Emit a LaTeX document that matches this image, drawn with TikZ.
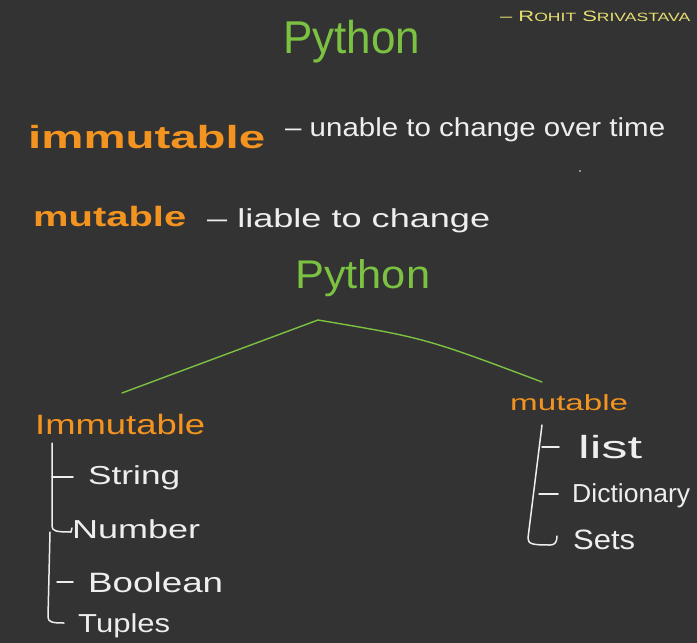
\documentclass[tikz,border=0pt]{standalone}
\usepackage{fontspec}
\setmainfont{Liberation Sans}
\usepackage{graphicx}
\definecolor{bg}{HTML}{333333}
\definecolor{pygreen}{HTML}{7CC242}
\definecolor{orng}{HTML}{F39420}
\definecolor{chalk}{HTML}{EEEEEE}
\definecolor{sig}{HTML}{E8DE72}
\newcommand{\hw}[2]{\resizebox{#1}{\height}{#2}}
\begin{document}
\begin{tikzpicture}[x=1pt,y=-1pt,
  lbl/.style={inner sep=0pt, anchor=west},
  fsz/.style={font=\fontsize{#1}{#1}\selectfont},
  hand/.style={chalk, line width=1.5pt, line cap=round, line join=round},
  greenline/.style={pygreen, line width=1.4pt, line cap=round}]
\fill[bg] (0,0) rectangle (697,643);
\useasboundingbox (0,0) rectangle (697,643);

% signature
\node[lbl, fsz=15, text=sig] (author) at (500,16) {\hw{190pt}{– R{\fontsize{12}{12}\selectfont OHIT} S{\fontsize{12}{12}\selectfont RIVASTAVA}}};

% title
\node[lbl, fsz=46, text=pygreen] (title) at (283,42) {\hw{137pt}{Python}};

% definitions
\node[lbl, fsz=32, text=orng] (immdef) at (28,137) {\hw{237pt}{\bfseries immutable}};
\node[lbl, fsz=26, text=chalk] (immtxt) at (285,130) {\hw{380pt}{– unable to change over time}};
\node[lbl, fsz=28, text=orng] (mutdef) at (33,216) {\hw{153pt}{\bfseries mutable}};
\node[lbl, fsz=26, text=chalk] (muttxt) at (207,221) {\hw{283pt}{– liable to change}};
\fill[chalk!70] (580,171) circle (0.8pt);

% tree
\node[lbl, fsz=40, text=pygreen] (py) at (295,278) {\hw{135pt}{Python}};
\coordinate (split) at (318,320);
\coordinate (lend) at (122,393);
\coordinate (rend) at (542,382);
\draw[greenline] (split) -- (lend);
\draw[greenline] (split) .. controls (425,338) .. (rend);

\node[lbl, fsz=28, text=orng] (imm) at (35,424) {\hw{170pt}{Immutable}};
\node[lbl, fsz=22, text=orng] (mut) at (510,403) {\hw{118pt}{mutable}};

% immutable list
\node[lbl, fsz=26, text=chalk] (string) at (88,478) {\hw{92pt}{String}};
\node[lbl, fsz=26, text=chalk] (number) at (72,529) {\hw{128pt}{Number}};
\node[lbl, fsz=28, text=chalk] (boolean) at (88,582) {\hw{135pt}{Boolean}};
\node[lbl, fsz=26, text=chalk] (tuples) at (78,626) {\hw{92pt}{Tuples}};

\draw[hand] (52,443) -- (52,526) .. controls (52,531) and (56,532) .. (71,532) -- (72,528);
\draw[hand] (52,477) -- (73,477);
\draw[hand] (50,532) -- (48,617) .. controls (48,622) and (52,623) .. (64,623);
\draw[hand] (57,582) -- (73,582);

% mutable list
\node[lbl, fsz=32, text=chalk] (list) at (578,447) {\hw{64pt}{list}};
\node[lbl, fsz=26, text=chalk] (dict) at (572,496) {\hw{118pt}{Dictionary}};
\node[lbl, fsz=28, text=chalk] (sets) at (573,540) {\hw{62pt}{Sets}};

\draw[hand] (542,425) -- (528,538) .. controls (528,544) and (532,545) .. (550,545) .. controls (555,545) and (557,542) .. (557,536);
\draw[hand] (542,447) -- (559,447);
\draw[hand] (539,494) -- (558,494);
\end{tikzpicture}
\end{document}
